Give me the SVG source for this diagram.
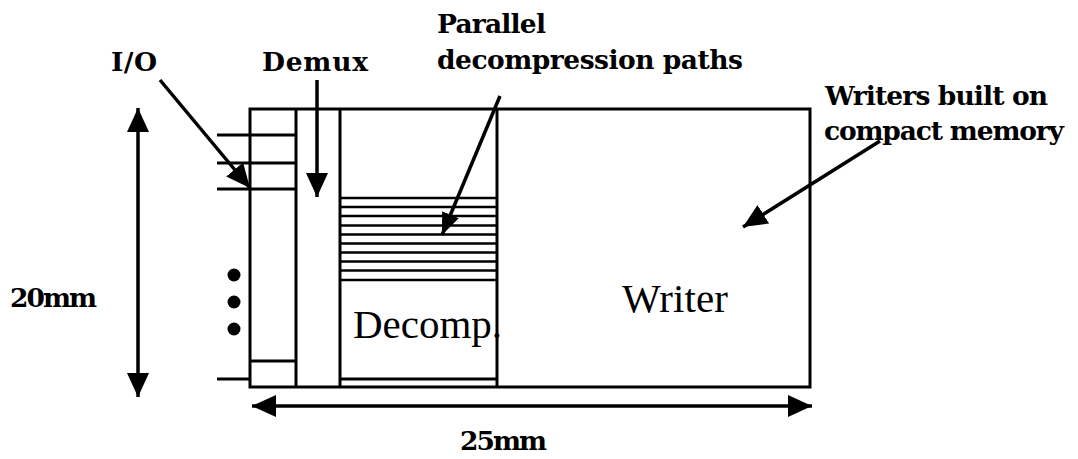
<svg xmlns="http://www.w3.org/2000/svg" width="1078" height="459" viewBox="0 0 1078 459">
  <style>
    .ln { stroke: #000; stroke-width: 3; fill: none; }
    .st { stroke: #000; stroke-width: 2.6; fill: none; }
    .ar { stroke: #000; stroke-width: 3.5; fill: none; marker-end: url(#ah); }
    .dbl { stroke: #000; stroke-width: 3.5; fill: none; marker-start: url(#ah); marker-end: url(#ah); }
    .lbl { font-family: "DejaVu Serif", "Liberation Serif", serif; font-weight: bold; font-size: 26.5px; fill: #000; }
    .big { font-family: "Liberation Serif", "Times New Roman", serif; font-size: 41px; fill: #000; }
  </style>
  <defs>
    <marker id="ah" markerUnits="userSpaceOnUse" markerWidth="26" markerHeight="24" refX="24" refY="11" orient="auto-start-reverse">
      <path d="M0,0 L24,11 L0,22 Z" fill="#000"/>
    </marker>
    <marker id="ahs" markerUnits="userSpaceOnUse" markerWidth="24" markerHeight="20" refX="22" refY="9" orient="auto">
      <path d="M0,0 L22,9 L0,18 Z" fill="#000"/>
    </marker>
  </defs>
  <rect width="1078" height="459" fill="#fff"/>

  <g id="chip">
    <rect class="ln" x="250" y="109" width="560" height="278"/>
  </g>

  <g id="io">
    <line class="ln" x1="296" y1="109" x2="296" y2="387"/>
    <line class="ln" x1="217" y1="135" x2="296" y2="135"/>
    <line class="ln" x1="217" y1="163" x2="296" y2="163"/>
    <line class="ln" x1="217" y1="189" x2="296" y2="189"/>
    <line class="ln" x1="250" y1="361" x2="296" y2="361"/>
    <line class="ln" x1="217" y1="379" x2="250" y2="379"/>
    <circle cx="234" cy="275" r="6.5" fill="#000"/>
    <circle cx="234" cy="302" r="6.5" fill="#000"/>
    <circle cx="234" cy="329" r="6.5" fill="#000"/>
  </g>

  <g id="demux">
    <line class="ln" x1="340" y1="109" x2="340" y2="387"/>
  </g>

  <g id="decomp">
    <line class="ln" x1="497" y1="109" x2="497" y2="387"/>
    <line class="st" x1="340" y1="198" x2="497" y2="198"/>
    <line class="st" x1="340" y1="207" x2="497" y2="207"/>
    <line class="st" x1="340" y1="216" x2="497" y2="216"/>
    <line class="st" x1="340" y1="225.5" x2="497" y2="225.5"/>
    <line class="st" x1="340" y1="234.5" x2="497" y2="234.5"/>
    <line class="st" x1="340" y1="243.5" x2="497" y2="243.5"/>
    <line class="st" x1="340" y1="252.5" x2="497" y2="252.5"/>
    <line class="st" x1="340" y1="261.5" x2="497" y2="261.5"/>
    <line class="st" x1="340" y1="270.5" x2="497" y2="270.5"/>
    <line class="st" x1="340" y1="280" x2="497" y2="280"/>
    <line class="ln" x1="340" y1="379" x2="497" y2="379"/>
    <text class="big" x="353" y="338" textLength="149">Decomp.</text>
  </g>

  <g id="writer">
    <text class="big" x="622" y="312" textLength="106">Writer</text>
  </g>

  <g id="labels">
    <text class="lbl" x="111" y="71" textLength="46">I/O</text>
    <text class="lbl" x="262" y="71" textLength="106">Demux</text>
    <text class="lbl" x="437" y="33" textLength="109">Parallel</text>
    <text class="lbl" x="437" y="69" textLength="306">decompression paths</text>
    <text class="lbl" x="825" y="105" textLength="223">Writers built on</text>
    <text class="lbl" x="824" y="140" textLength="240">compact memory</text>
    <text class="lbl" x="10" y="307" textLength="87">20mm</text>
    <text class="lbl" x="460" y="450" textLength="87">25mm</text>
  </g>

  <g id="connectors">
    <line class="ar" x1="160" y1="80" x2="250" y2="188"/>
    <line class="ar" x1="317" y1="80" x2="317" y2="197"/>
    <line class="ar" x1="500" y1="96" x2="442" y2="235" style="marker-end:url(#ahs)"/>
    <line class="ar" x1="880" y1="141" x2="743" y2="227"/>
    <line class="dbl" x1="138" y1="108" x2="138" y2="397"/>
    <line class="dbl" x1="252" y1="406" x2="812" y2="406"/>
  </g>
</svg>
